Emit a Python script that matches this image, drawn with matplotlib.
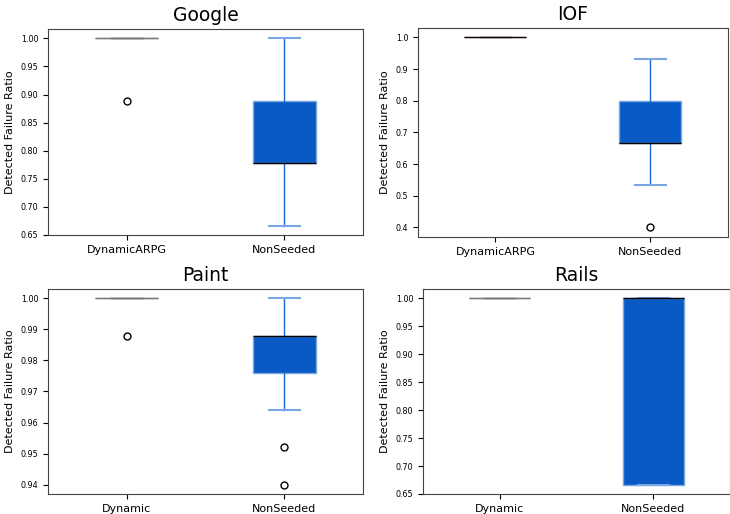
import matplotlib
matplotlib.use("Agg")
import matplotlib.pyplot as plt

titles = ["Google", "IOF", "Paint", "Rails"]
labels = [["DynamicARPG", "NonSeeded"], ["DynamicARPG", "NonSeeded"],
          ["Dynamic", "NonSeeded"], ["Dynamic", "NonSeeded"]]

# box stats: (whislo, q1, med, q3, whishi, fliers)
dyn_stats = [
    (1.0, 1.0, 1.0, 1.0, 1.0, [8 / 9]),
    (1.0, 1.0, 1.0, 1.0, 1.0, []),
    (1.0, 1.0, 1.0, 1.0, 1.0, [0.988]),
    (1.0, 1.0, 1.0, 1.0, 1.0, []),
]
non_stats = [
    (6 / 9, 7 / 9, 7 / 9, 8 / 9, 1.0, []),
    (8 / 15, 10 / 15, 10 / 15, 12 / 15, 14 / 15, [6 / 15]),
    (0.964, 0.976, 0.988, 0.988, 1.0, [0.952, 0.940]),
    (2 / 3, 2 / 3, 1.0, 1.0, 1.0, []),
]
dyn_median_color = ["#807880", "#1a0a0a", "#807880", "#807880"]

# axes rectangles in pixels (left, top, right, bottom)
W, H = 730, 514
rects = [(48, 29, 363, 235), (418, 28, 728, 237),
         (48, 289, 363, 494), (423, 289, 730, 494)]

fig = plt.figure(figsize=(7.3, 5.14), dpi=100)

def to_stats(s, label):
    lo, q1, med, q3, hi, fl = s
    return dict(whislo=lo, q1=q1, med=med, q3=q3, whishi=hi, fliers=fl, label=label)

for i in range(4):
    l, t, r, b = rects[i]
    ax = fig.add_axes([l / W, 1 - b / H, (r - l) / W, (b - t) / H])
    stats = [to_stats(dyn_stats[i], labels[i][0]), to_stats(non_stats[i], labels[i][1])]
    bp = ax.bxp(stats, positions=[1, 2], widths=0.4, patch_artist=True,
                flierprops=dict(marker="o", markersize=5, markerfacecolor="white",
                                markeredgecolor="black", markeredgewidth=1.0))
    # first box: gray
    bp["boxes"][0].set_facecolor("#808080")
    bp["boxes"][0].set_edgecolor("#808080")
    bp["medians"][0].set_color(dyn_median_color[i])
    for w in bp["whiskers"][:2] + bp["caps"][:2]:
        w.set_color("#808080")
    # second box: blue
    bp["boxes"][1].set_facecolor("#0a5ac6")
    bp["boxes"][1].set_edgecolor("#7aa6e2")
    bp["medians"][1].set_color("black")
    for w in bp["whiskers"][2:]:
        w.set_color("#1a66d8")
    for c in bp["caps"][2:]:
        c.set_color("#7aa6e2")
        c.set_linewidth(1.5)
    lo, hi = ax.get_ylim()
    ax.set_ylim(lo - 1e-9, hi)
    ax.set_title(titles[i], fontsize=13.5)
    ax.set_ylabel("Detected Failure Ratio", fontsize=8)
    ax.tick_params(axis="y", labelsize=5.8)
    ax.tick_params(axis="x", labelsize=8)
    for sp in ax.spines.values():
        sp.set_color("#444444")

fig.savefig("out.png", dpi=100)
